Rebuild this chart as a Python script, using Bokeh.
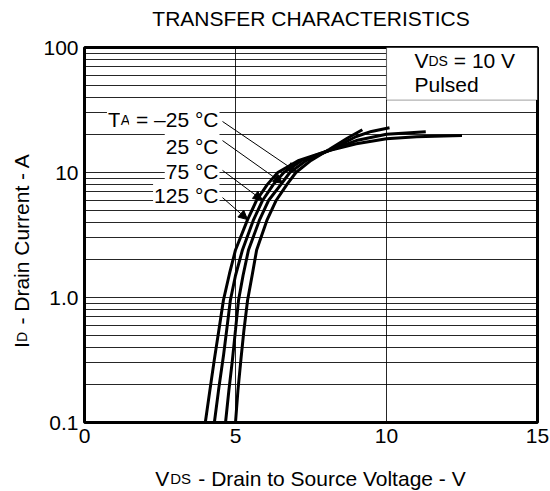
import math
from bokeh.plotting import figure
from bokeh.models import Range1d, FixedTicker, Label, Arrow, NormalHead, BoxAnnotation
from bokeh.embed import file_html
from bokeh.resources import INLINE

# ---- data ----
v_125 = [4.0, 4.15, 4.3, 4.45, 4.6, 4.8, 5.0, 5.4, 5.7, 6.05, 6.4, 7.1, 8.1, 9.0, 10.0, 11.0, 12.5]
i_125 = [0.1, 0.18, 0.32, 0.55, 0.95, 1.55, 2.4, 4.2, 6.0, 8.0, 10.0, 12.5, 15.0, 17.0, 18.6, 19.3, 19.8]

v_75 = [4.3, 4.45, 4.6, 4.72, 4.83, 5.0, 5.23, 5.6, 5.9, 6.25, 6.6, 7.2, 8.1, 9.0, 10.0, 11.3]
i_75 = [0.1, 0.19, 0.34, 0.58, 0.95, 1.5, 2.4, 4.2, 6.0, 8.0, 10.0, 12.5, 15.0, 18.0, 20.2, 21.2]

v_25 = [4.67, 4.78, 4.9, 5.0, 5.1, 5.25, 5.43, 5.8, 6.1, 6.5, 6.8, 7.35, 8.1, 9.0, 9.5, 10.1]
i_25 = [0.1, 0.18, 0.32, 0.55, 0.95, 1.5, 2.4, 4.2, 6.0, 8.0, 10.0, 12.5, 15.0, 19.4, 21.3, 22.8]

v_m25 = [5.0, 5.08, 5.18, 5.28, 5.4, 5.55, 5.7, 6.05, 6.35, 6.7, 7.0, 7.5, 8.1, 8.7, 9.2]
i_m25 = [0.1, 0.18, 0.32, 0.55, 0.95, 1.5, 2.4, 4.2, 6.0, 8.0, 10.0, 12.5, 15.3, 18.8, 22.0]

x_ticks = [0, 5, 10, 15]
y_ticks = [0.1, 1, 10, 100]
y_tick_labels = ["0.1", "1.0", "10", "100"]
x_grid = [5, 10]
y_grid = [0.2, 0.3, 0.4, 0.5, 0.6, 0.7, 0.8, 0.9, 1,
          2, 3, 4, 5, 6, 7, 8, 9, 10,
          20, 30, 40, 50, 60, 70, 80, 90]

# curve label arrows: start (near label) -> tip (on curve)
arrow_x0 = [4.57, 4.57, 4.57, 4.57]
arrow_y0 = [25.6, 18.0, 10.4, 6.3]
arrow_x1 = [7.0, 6.56, 5.89, 5.4]
arrow_y1 = [10.2, 8.2, 6.0, 4.2]

FONT = "Liberation Sans"
FS = 21
SUB = 14
NB = "\u00a0"
W = {' ': 278, NB: 278, '-': 333, '=': 584, '–': 556, '°': 400, '.': 278,
     '0': 556, '1': 556, '2': 556, '3': 556, '4': 556, '5': 556, '6': 556, '7': 556, '8': 556, '9': 556,
     'A': 667, 'C': 722, 'D': 722, 'I': 278, 'P': 667, 'S': 667, 'T': 611, 'V': 667,
     'a': 556, 'c': 500, 'd': 556, 'e': 556, 'g': 556, 'i': 222, 'l': 222, 'n': 556,
     'o': 556, 'r': 333, 's': 500, 't': 278, 'u': 556}


def tw(s, size):
    return sum(W.get(ch, 556) for ch in s) * size / 1000.0


def mk(x, y, xo, yo, text, size, angle=0.0, align="left", bg=None):
    lab = Label(x=x, y=y, x_offset=xo, y_offset=yo, text=text, text_font=FONT,
                text_font_size=f"{size}px", text_align=align, text_baseline="alphabetic",
                angle=angle, text_color="black")
    if bg is not None:
        lab.background_fill_color = bg
        lab.padding = 1
    return lab


def pieces_in_center(p, pieces, x, y, x0, y0, align="left", bg=None):
    total = sum(tw(t, s) for t, s in pieces)
    off = {"left": 0.0, "center": -total / 2.0, "right": -total}[align]
    for t, sz in pieces:
        p.add_layout(mk(x, y, x0 + off, y0, t, sz, bg=bg))
        off += tw(t, sz)


p = figure(width=549, height=490, x_range=Range1d(0, 15), y_range=Range1d(0.1, 100),
           y_axis_type="log", output_backend="svg", toolbar_location=None,
           min_border_left=84, min_border_right=12, min_border_top=47, min_border_bottom=68)
p.background_fill_color = "white"
p.border_fill_color = "white"
p.outline_line_color = "black"
p.outline_line_width = 3

p.xaxis.ticker = FixedTicker(ticks=x_ticks)
p.yaxis.ticker = FixedTicker(ticks=y_ticks)
p.yaxis.major_label_overrides = {k: v for k, v in zip(y_ticks, y_tick_labels)}
for ax in (p.xaxis[0], p.yaxis[0]):
    ax.axis_line_color = None
    ax.major_tick_line_color = None
    ax.minor_tick_line_color = None
    ax.major_tick_out = 0
    ax.major_tick_in = 0
    ax.minor_tick_out = 0
    ax.major_label_text_font = FONT
    ax.major_label_text_font_size = f"{FS}px"
    ax.major_label_text_color = "black"
p.xaxis.major_label_standoff = 6
p.yaxis.major_label_standoff = 6

p.xgrid.ticker = FixedTicker(ticks=x_grid)
p.ygrid.ticker = FixedTicker(ticks=y_grid)
for g in (p.xgrid[0], p.ygrid[0]):
    g.grid_line_color = "black"
    g.grid_line_width = 1
    g.grid_line_alpha = 0.85

for vx, iy in ((v_125, i_125), (v_75, i_75), (v_25, i_25), (v_m25, i_m25)):
    p.line(vx, iy, line_color="black", line_width=3)

# Conditions box
p.add_layout(BoxAnnotation(left=10, right=15, bottom=38, top=100, fill_color="white",
                           fill_alpha=1.0, line_color="black", line_width=1.2))
pieces_in_center(p, [("V", FS), ("DS", SUB), (NB + "= 10 V", FS)], 10, 100, 28, -13)
pieces_in_center(p, [("Pulsed", FS)], 10, 100, 28, -37)

# Curve labels (right-aligned)
label_baselines = [-72, -99, -124, -148]
label_pieces = [
    [("T", FS), ("A", SUB), (NB + "= –25 °C", FS)],
    [("25 °C", FS)],
    [("75 °C", FS)],
    [("125 °C", FS)],
]
for pcs, yb in zip(label_pieces, label_baselines):
    pieces_in_center(p, pcs, 0, 100, 133, yb, align="right", bg="white")

for x0, y0, x1, y1 in zip(arrow_x0, arrow_y0, arrow_x1, arrow_y1):
    p.add_layout(Arrow(x_start=x0, y_start=y0, x_end=x1, y_end=y1, line_color="black",
                       line_width=1,
                       end=NormalHead(size=9, fill_color="black", line_color="black", line_width=1)))

# ---- texts outside the frame (side panels, positioned in data coords + px offsets) ----
# Title
p.add_layout(mk(7.5, 100, 0, 29, "TRANSFER CHARACTERISTICS", FS, align="center"), "above")

# X axis label: "V" + gap for subscript + rest, and subscript "DS"
xl_main = "V" + NB * 5 + "- Drain to Source Voltage - V"
xl_w = tw(xl_main, FS)
xl_start = -xl_w / 2.0
p.add_layout(mk(7.5, 0.1, xl_start, -56, xl_main, FS), "below")
p.add_layout(mk(7.5, 0.1, xl_start + tw("V", FS) + 1, -56, "DS", 15), "above")

# Y axis label (rotated): "I" + gap + rest, and subscript "D"
yl_main = "I" + NB * 3 + "- Drain Current - A"
yl_w = tw(yl_main, FS)
yl_start = 172 - yl_w / 2.0
p.add_layout(mk(0, 0.1, -63, yl_start, yl_main, FS, angle=math.pi / 2), "left")
p.add_layout(mk(0, 0.1, -63, yl_start + tw("I", FS), "D", SUB, angle=math.pi / 2), "left")

open("out.html", "w").write(file_html(p, INLINE))
